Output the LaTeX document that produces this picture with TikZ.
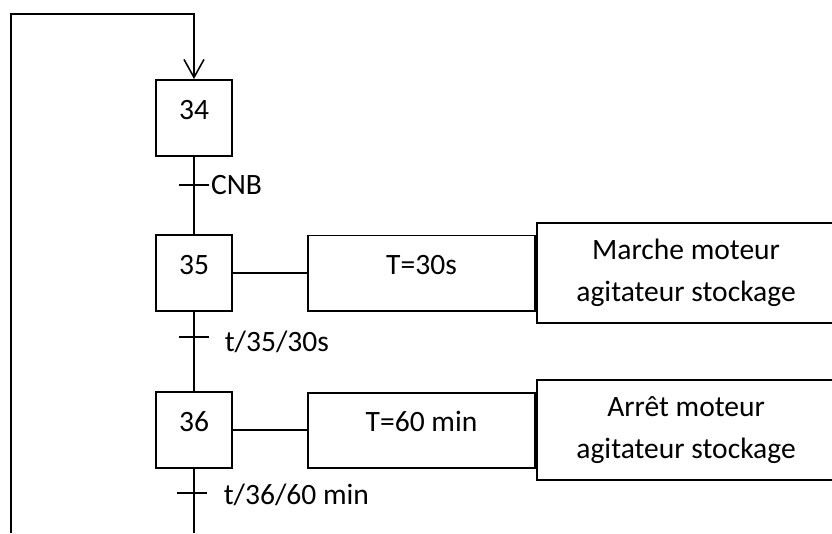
\documentclass[tikz,border=0pt]{standalone}
\usepackage{fontspec}
\setmainfont{Carlito}
\usetikzlibrary{positioning,arrows.meta}

\begin{document}
\begin{tikzpicture}[x=0.025cm, y=-0.025cm,
    every node/.style={font=\fontsize{21}{29.6}\selectfont, text=black},
    etape/.style={draw, line width=1.4pt, minimum size=1.9cm, inner sep=0pt, text height=0.5cm, text depth=0.425cm},
    tempo/.style={draw, line width=1.4pt, minimum width=5.675cm, minimum height=1.875cm, inner sep=0pt, text height=0.5cm, text depth=0.425cm},
    action/.style={draw, line width=1.4pt, minimum width=7.45cm, minimum height=2.5cm, align=center, inner sep=0pt},
    liaison/.style={line width=1.1pt},
    recept/.style={anchor=west, inner sep=0pt},
    ]
  \useasboundingbox (0,0) rectangle (832,533);

  % etapes
  \node[etape] (e34) at (194,118) {34};
  \node[etape, below=1.925cm of e34] (e35) {35};
  \node[etape, below=1.975cm of e35] (e36) {36};

  % temporisations et actions
  \node[tempo, right=1.85cm of e35] (t35) {T=30s};
  \node[action, right=0cm of t35] (a35) {Marche moteur\\agitateur stockage};
  \node[tempo, right=1.85cm of e36] (t36) {T=60 min};
  \node[action, right=0cm of t36] (a36) {Arrêt moteur\\agitateur stockage};

  \draw[liaison] (e35) -- (t35);
  \draw[liaison] (e36) -- (t36);

  % liaisons verticales
  \draw[liaison] (e34) -- (e35);
  \draw[liaison] (e35) -- (e36);
  \coordinate (fin) at (194,533);
  \draw[liaison] (e36) -- (fin);

  % transitions
  \coordinate (tr1) at (194,185);
  \coordinate (tr2) at (194,337);
  \coordinate (tr3) at (194,493);
  \draw[liaison] (tr1) ++(-15,0) -- ++(30,0) node[recept, xshift=1pt] (r1) {CNB};
  \draw[liaison] (tr2) ++(-15,0) -- ++(30,0) node[recept, xshift=0.375cm, yshift=-0.12cm] (r2) {t/35/30s};
  \draw[liaison] (tr3) ++(-17,0) -- ++(30,0) node[recept, xshift=0.4cm, yshift=-0.05cm] (r3) {t/36/60 min};

  % retour vers l'etape 34
  \coordinate (retour) at (11,533);
  \draw[liaison, -{Straight Barb[length=0.45cm, width=0.5cm]}]
    (retour) -- (11,14) -- (e34.north |- 0,14) -- (e34.north);
\end{tikzpicture}
\end{document}
